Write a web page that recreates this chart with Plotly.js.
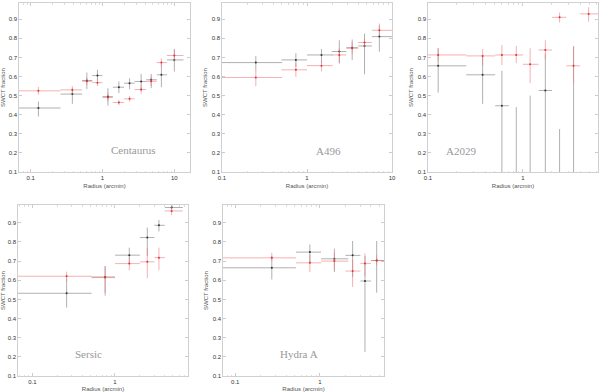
<!DOCTYPE html>
<html>
<head>
<meta charset="utf-8">
<script src="https://cdn.plot.ly/plotly-3.0.1.min.js"></script>
<style>
  body { margin: 0; background: #fff; }
  #chart { width: 600px; height: 392px; }
</style>
</head>
<body>
<div id="chart"></div>
<script>
// Centaurus
const cenR = [0.128, 0.38, 0.605, 0.85, 1.19, 1.69, 2.38, 3.45, 4.76, 6.6, 10.0];
const cenRlo = [0.06, 0.26, 0.52, 0.72, 1.0, 1.39, 2.0, 2.8, 4.05, 5.7, 7.9];
const cenRhi = [0.26, 0.52, 0.72, 1.0, 1.39, 2.0, 2.8, 4.05, 5.7, 7.9, 13.4];
const cenBlack = [0.435, 0.508, 0.579, 0.605, 0.495, 0.544, 0.565, 0.574, 0.583, 0.609, 0.687];
const cenBlackHi = [0.469, 0.539, 0.621, 0.635, 0.539, 0.574, 0.591, 0.614, 0.614, 0.670, 0.743];
const cenBlackLo = [0.391, 0.457, 0.534, 0.577, 0.447, 0.513, 0.534, 0.525, 0.539, 0.544, 0.626];
const cenRed = [0.525, 0.530, 0.575, 0.568, 0.490, 0.464, 0.483, 0.532, 0.575, 0.673, 0.710];
const cenRedHi = [0.545, 0.550, 0.595, 0.590, 0.515, 0.478, 0.497, 0.555, 0.600, 0.695, 0.743];
const cenRedLo = [0.505, 0.510, 0.555, 0.550, 0.470, 0.450, 0.468, 0.510, 0.550, 0.650, 0.678];

// A496
const a496R = [0.25, 0.74, 1.48, 2.4, 3.4, 4.75, 7.1];
const a496Rlo = [0.1, 0.5, 1.0, 1.95, 2.9, 4.0, 5.8];
const a496Rhi = [0.51, 1.0, 2.0, 2.9, 4.0, 5.8, 10];
const a496Black = [0.673, 0.687, 0.713, 0.731, 0.751, 0.760, 0.809];
const a496BlackHi = [0.708, 0.722, 0.744, 0.790, 0.794, 0.825, 0.867];
const a496BlackLo = [0.630, 0.652, 0.669, 0.669, 0.686, 0.612, 0.730];
const a496Red = [0.595, 0.635, 0.657, 0.713, 0.748, 0.778, 0.842];
const a496RedHi = [0.630, 0.670, 0.683, 0.748, 0.780, 0.800, 0.878];
const a496RedLo = [0.550, 0.598, 0.627, 0.669, 0.720, 0.750, 0.814];

// A2029 (black points below 0.1 are off the plot, only their bars show)
const a2029R = [0.128, 0.376, 0.6, 0.85, 1.19, 1.72, 2.43, 3.41, 4.91];
const a2029Rlo = [0.1, 0.253, 0.51, 0.71, 1.0, 1.46, 2.02, 2.86, 4.0];
const a2029Rhi = [0.253, 0.51, 0.71, 1.0, 1.46, 2.02, 2.86, 4.0, 6.25];
const a2029Black = [0.656, 0.609, 0.447, 0.05, 0.05, 0.527, 0.05, 0.05];
const a2029BlackHi = [0.748, 0.705, 0.630, 0.440, 0.500, 0.720, 0.325, 0.757];
const a2029BlackLo = [0.516, 0.457, 0.0, 0.0, 0.0, 0.0, 0.0, 0.0];
const a2029Red = [0.713, 0.708, 0.713, 0.713, 0.664, 0.739, 0.910, 0.656, 0.928];
const a2029RedHi = [0.748, 0.743, 0.765, 0.760, 0.748, 0.790, 0.935, 0.760, 0.963];
const a2029RedLo = [0.678, 0.660, 0.660, 0.670, 0.565, 0.690, 0.883, 0.565, 0.887];

// Sersic
const serR = [0.26, 0.76, 1.49, 2.46, 3.4, 4.84];
const serRlo = [0.06, 0.52, 1.0, 2.0, 3.0, 4.0];
const serRhi = [0.52, 1.0, 2.0, 3.0, 4.0, 6.6];
const serBlack = [0.532, 0.617, 0.731, 0.823, 0.887, 0.980];
const serBlackHi = [0.609, 0.674, 0.770, 0.875, 0.915, 0.992];
const serBlackLo = [0.457, 0.520, 0.683, 0.727, 0.855, 0.970];
const serRed = [0.621, 0.614, 0.687, 0.696, 0.718, 0.962];
const serRedHi = [0.645, 0.674, 0.720, 0.770, 0.770, 0.985];
const serRedLo = [0.595, 0.535, 0.652, 0.610, 0.652, 0.940];

// Hydra A
const hydR = [0.27, 0.76, 1.48, 2.43, 3.4, 4.67];
const hydRlo = [0.06, 0.52, 1.03, 2.0, 3.0, 4.0];
const hydRhi = [0.52, 1.03, 2.16, 3.0, 4.0, 5.7];
const hydBlack = [0.665, 0.747, 0.712, 0.730, 0.596, 0.703];
const hydBlackHi = [0.726, 0.787, 0.765, 0.805, 0.726, 0.805];
const hydBlackLo = [0.604, 0.691, 0.643, 0.617, 0.226, 0.535];
const hydRed = [0.717, 0.691, 0.700, 0.648, 0.688, 0.703];
const hydRedHi = [0.743, 0.735, 0.743, 0.708, 0.740, 0.730];
const hydRedLo = [0.700, 0.643, 0.652, 0.565, 0.620, 0.678];

const clusterNames = ['Centaurus', 'A496', 'A2029', 'Sersic', 'Hydra A'];

const BLACK = '#7a7a7a';
const RED = '#ee7a7e';

function series(n, r, rlo, rhi, y, yhi, ylo, color, dot) {
  const xs = r.slice(0, y.length);
  return {
    x: xs,
    y: y,
    xaxis: n === 1 ? 'x' : 'x' + n,
    yaxis: n === 1 ? 'y' : 'y' + n,
    type: 'scatter',
    mode: 'markers',
    marker: {size: 2, color: dot},
    error_x: {
      type: 'data', symmetric: false, width: 0, thickness: 0.6, color: color,
      array: xs.map((v, i) => rhi[i] - v),
      arrayminus: xs.map((v, i) => v - rlo[i])
    },
    error_y: {
      type: 'data', symmetric: false, width: 0, thickness: 0.6, color: color,
      array: y.map((v, i) => yhi[i] - v),
      arrayminus: y.map((v, i) => v - ylo[i])
    },
    showlegend: false,
    cliponaxis: true,
    hoverinfo: 'x+y'
  };
}

const data = [
  series(1, cenR, cenRlo, cenRhi, cenBlack, cenBlackHi, cenBlackLo, BLACK, '#333'),
  series(1, cenR, cenRlo, cenRhi, cenRed, cenRedHi, cenRedLo, RED, '#d9363c'),
  series(2, a496R, a496Rlo, a496Rhi, a496Black, a496BlackHi, a496BlackLo, BLACK, '#333'),
  series(2, a496R, a496Rlo, a496Rhi, a496Red, a496RedHi, a496RedLo, RED, '#d9363c'),
  series(3, a2029R, a2029Rlo, a2029Rhi, a2029Black, a2029BlackHi, a2029BlackLo, BLACK, '#333'),
  series(3, a2029R, a2029Rlo, a2029Rhi, a2029Red, a2029RedHi, a2029RedLo, RED, '#d9363c'),
  series(4, serR, serRlo, serRhi, serBlack, serBlackHi, serBlackLo, BLACK, '#333'),
  series(4, serR, serRlo, serRhi, serRed, serRedHi, serRedLo, RED, '#d9363c'),
  series(5, hydR, hydRlo, hydRhi, hydBlack, hydBlackHi, hydBlackLo, BLACK, '#333'),
  series(5, hydR, hydRlo, hydRhi, hydRed, hydRedHi, hydRedLo, RED, '#d9363c')
];

const W = 600, H = 392;
// plot boxes in pixels: [left, right, top, bottom], x log range, y top
const panels = [
  {box: [19, 190, 3, 172], xr: [-1.163, 1.218], ytop: 0.985},
  {box: [222, 392, 3, 172], xr: [-1, 1], ytop: 0.985},
  {box: [428, 598, 3, 172], xr: [-1, 0.79], ytop: 0.985},
  {box: [18, 188, 205, 376], xr: [-1.173, 0.883], ytop: 0.993},
  {box: [223, 384, 205, 376], xr: [-1.145, 0.756], ytop: 0.993}
];
const textPos = [[133, 150], [328, 151], [461, 151], [88, 354], [299, 354]];

const minorVals = [];
[0.01, 0.1, 1, 10].forEach(d => { for (let k = 2; k <= 9; k++) minorVals.push(k * d); });

const tickFont = {family: 'Liberation Sans, Arial, sans-serif', size: 6, color: '#333'};
const titleFont = {family: 'Liberation Sans, Arial, sans-serif', size: 6, color: '#555'};

const layout = {
  width: W, height: H,
  margin: {l: 0, r: 0, t: 0, b: 0},
  paper_bgcolor: '#fff', plot_bgcolor: '#fff',
  showlegend: false,
  annotations: []
};

panels.forEach((p, i) => {
  const n = i + 1;
  const xk = n === 1 ? 'xaxis' : 'xaxis' + n;
  const yk = n === 1 ? 'yaxis' : 'yaxis' + n;
  layout[xk] = {
    type: 'log',
    domain: [p.box[0] / W, p.box[1] / W],
    range: p.xr,
    anchor: n === 1 ? 'y' : 'y' + n,
    tickvals: [0.1, 1, 10], ticktext: ['0.1', '1', '10'],
    ticks: 'inside', ticklen: 3, tickcolor: '#aaa', tickwidth: 0.6,
    minor: {tickvals: minorVals, ticks: 'inside', ticklen: 1.5, tickcolor: '#bbb', tickwidth: 0.5, showgrid: false},
    showline: true, linecolor: '#c4c4c4', linewidth: 0.8, mirror: 'allticks',
    showgrid: false, zeroline: false,
    tickfont: tickFont,
    title: {text: 'Radius (arcmin)', font: titleFont, standoff: 3}
  };
  layout[yk] = {
    domain: [1 - p.box[3] / H, 1 - p.box[2] / H],
    range: [0.1, p.ytop],
    anchor: n === 1 ? 'x' : 'x' + n,
    tickvals: [0.1, 0.2, 0.3, 0.4, 0.5, 0.6, 0.7, 0.8, 0.9],
    ticktext: ['0.1', '0.2', '0.3', '0.4', '0.5', '0.6', '0.7', '0.8', '0.9'],
    ticks: 'inside', ticklen: 3, tickcolor: '#aaa', tickwidth: 0.6,
    showline: true, linecolor: '#c4c4c4', linewidth: 0.8, mirror: 'allticks',
    showgrid: false, zeroline: false,
    tickfont: tickFont,
    title: {text: 'SWCT fraction', font: titleFont, standoff: 3}
  };
  layout.annotations.push({
    text: clusterNames[i],
    xref: 'paper', yref: 'paper',
    x: textPos[i][0] / W, y: 1 - textPos[i][1] / H,
    xanchor: 'center', yanchor: 'middle',
    showarrow: false,
    font: {family: 'Liberation Serif, DejaVu Serif, serif', size: 11, color: '#999'}
  });
});

Plotly.newPlot('chart', data, layout, {displayModeBar: false, staticPlot: true});
</script>
</body>
</html>
